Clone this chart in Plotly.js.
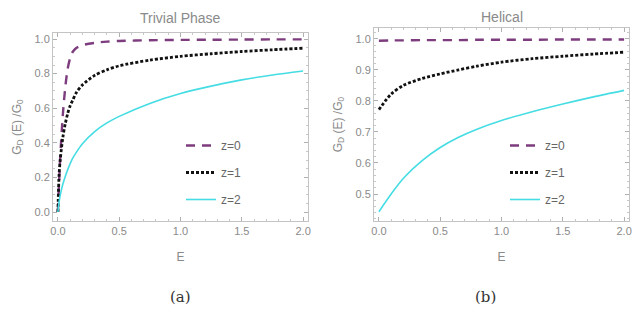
<!DOCTYPE html>
<html><head><meta charset="utf-8">
<script src="https://cdn.plot.ly/plotly-3.0.1.min.js"></script>
<style>html,body{margin:0;padding:0;background:#fff}#plot{width:634px;height:320px}</style>
</head><body><div id="plot"></div>
<script>
// Panel (a): Trivial Phase
const E_a  = [0, 0.01, 0.02, 0.04, 0.06, 0.08, 0.1, 0.12, 0.15, 0.2, 0.3, 0.4, 0.5, 0.75, 1.0, 1.25, 1.5, 1.75, 2.0];
const z0_a = [0, 0.18, 0.33, 0.56, 0.72, 0.83, 0.89, 0.925, 0.948, 0.965, 0.978, 0.985, 0.989, 0.993, 0.995, 0.996, 0.997, 0.998, 0.998];
const z1_a = [0, 0.22, 0.31, 0.43, 0.51, 0.57, 0.615, 0.645, 0.69, 0.735, 0.79, 0.822, 0.845, 0.878, 0.90, 0.915, 0.928, 0.938, 0.947];
const z2_a = [0, 0.06, 0.10, 0.16, 0.205, 0.245, 0.28, 0.31, 0.345, 0.395, 0.465, 0.515, 0.553, 0.628, 0.685, 0.728, 0.764, 0.792, 0.815];
// Panel (b): Helical
const E_b  = [0, 0.1, 0.2, 0.35, 0.5, 0.65, 0.8, 1.0, 1.25, 1.5, 1.75, 2.0];
const z0_b = [0.994, 0.995, 0.995, 0.996, 0.996, 0.996, 0.997, 0.997, 0.997, 0.998, 0.998, 0.998];
const z1_b = [0.772, 0.822, 0.85, 0.872, 0.887, 0.9, 0.912, 0.925, 0.936, 0.944, 0.951, 0.957];
const z2_b = [0.443, 0.5, 0.551, 0.607, 0.65, 0.683, 0.709, 0.737, 0.765, 0.79, 0.813, 0.834];
const seriesNames = ['z=0', 'z=1', 'z=2'];
const panelTitles = ['Trivial Phase', 'Helical'];
const panelLabels = ['(a)', '(b)'];
const xTickVals = [0, 0.5, 1.0, 1.5, 2.0];
const yTickVals_a = [0, 0.2, 0.4, 0.6, 0.8, 1.0];
const yTickVals_b = [0.5, 0.6, 0.7, 0.8, 0.9, 1.0];

const styles = [
  {color: '#7d3c7d', width: 2.4, dash: '9px,7px'},
  {color: '#111111', width: 2.8, dash: '3px,2px'},
  {color: '#45dde3', width: 1.6, dash: 'solid'}
];

function mk(x, y, i, xa, ya, lg) {
  return {x: x, y: y, xaxis: xa, yaxis: ya, type: 'scatter', mode: 'lines',
    name: seriesNames[i], legend: lg, legendgroup: lg + i,
    line: {color: styles[i].color, width: styles[i].width, dash: styles[i].dash, shape: 'spline', smoothing: 0.8}};
}
const data = [
  mk(E_a, z0_a, 0, 'x', 'y', 'legend'),
  mk(E_a, z1_a, 1, 'x', 'y', 'legend'),
  mk(E_a, z2_a, 2, 'x', 'y', 'legend'),
  mk(E_b, z0_b, 0, 'x2', 'y2', 'legend2'),
  mk(E_b, z1_b, 1, 'x2', 'y2', 'legend2'),
  mk(E_b, z2_b, 2, 'x2', 'y2', 'legend2')
];

const W = 634, H = 320;
const SANS = 'Liberation Sans, Arial, sans-serif';
const tickFont = {family: SANS, size: 11, color: '#8a8a8a'};
function xax(dom, anchor) {
  return {domain: dom, anchor: anchor, range: [-0.04, 2.04], tickvals: xTickVals, tickformat: '.1f',
    showgrid: false, zeroline: false, showline: true, mirror: 'ticks', linecolor: '#c4c4c4', linewidth: 1,
    ticks: 'inside', ticklen: 4, tickcolor: '#b0b0b0', tickfont: tickFont,
    minor: {dtick: 0.1, tick0: 0, ticks: 'inside', ticklen: 2, tickcolor: '#c8c8c8', showgrid: false},
    title: {text: 'E', font: {family: SANS, size: 12, color: '#8a8a8a'}, standoff: 16}};
}
function yax(dom, anchor, range, tv, mdt) {
  return {domain: dom, anchor: anchor, range: range, tickvals: tv, tickformat: '.1f',
    showgrid: false, zeroline: false, showline: true, mirror: 'ticks', linecolor: '#c4c4c4', linewidth: 1,
    ticks: 'inside', ticklen: 4, tickcolor: '#b0b0b0', tickfont: tickFont,
    minor: {dtick: mdt, tick0: 0, ticks: 'inside', ticklen: 2, tickcolor: '#c8c8c8', showgrid: false},
    title: {text: 'G<sub>D</sub> (E) /G<sub>0</sub>', font: {family: SANS, size: 12, color: '#8a8a8a'}, standoff: 10}};
}
const legFont = {family: SANS, size: 12, color: '#666'};
function ann(text, x, y, font) {
  return {text: text, xref: 'paper', yref: 'paper', x: x / W, y: (H - y) / H, xanchor: 'center', yanchor: 'middle',
    showarrow: false, font: font};
}
const titleFont = {family: SANS, size: 14, color: '#8a8a8a'};
const labelFont = {family: 'DejaVu Serif, Liberation Serif, serif', size: 15, color: '#333'};
const layout = {
  width: W, height: H, margin: {l: 0, r: 0, t: 0, b: 0},
  paper_bgcolor: '#fff', plot_bgcolor: '#fff',
  xaxis: xax([53 / W, 308 / W], 'y'),
  yaxis: yax([(H - 221) / H, (H - 33) / H], 'x', [-0.052, 1.035], yTickVals_a, 0.05),
  xaxis2: xax([374 / W, 629 / W], 'y2'),
  yaxis2: yax([(H - 221) / H, (H - 28) / H], 'x2', [0.413, 1.035], yTickVals_b, 0.02),
  legend: {x: 181 / W, y: (H - 131) / H, xanchor: 'left', yanchor: 'top', bgcolor: 'rgba(0,0,0,0)',
    font: legFont, traceorder: 'grouped', tracegroupgap: 8},
  legend2: {x: 505 / W, y: (H - 131) / H, xanchor: 'left', yanchor: 'top', bgcolor: 'rgba(0,0,0,0)',
    font: legFont, traceorder: 'grouped', tracegroupgap: 8},
  annotations: [
    ann(panelTitles[0], 180.5, 18, titleFont),
    ann(panelTitles[1], 502, 17, titleFont),
    ann(panelLabels[0], 180, 297, labelFont),
    ann(panelLabels[1], 485, 297, labelFont)
  ]
};
Plotly.newPlot('plot', data, layout, {staticPlot: true, displayModeBar: false});
</script></body></html>
